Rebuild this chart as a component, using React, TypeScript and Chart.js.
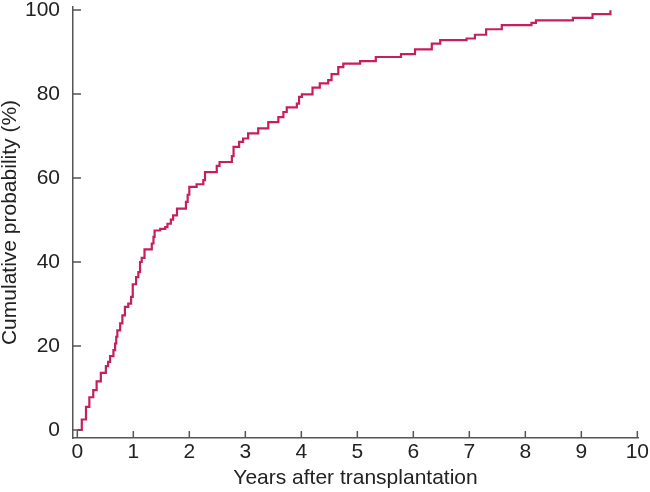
import { useEffect, useRef } from 'react'
import Chart from 'chart.js/auto'

// event times (years) and cumulative probability (%) after each step
const YEARS = [
  0, 0.08, 0.155, 0.215, 0.285, 0.345, 0.42, 0.51, 0.55, 0.585, 0.645, 0.675,
  0.695, 0.715, 0.765, 0.805, 0.85, 0.91, 0.96, 0.99, 1.05, 1.09, 1.12, 1.15,
  1.2, 1.33, 1.36, 1.38, 1.48, 1.57, 1.61, 1.67, 1.71, 1.78, 1.94, 1.97, 2.0,
  2.13, 2.25, 2.28, 2.49, 2.54, 2.76, 2.79, 2.89, 2.96, 3.05, 3.23, 3.41, 3.59,
  3.68, 3.74, 3.92, 3.96, 4.01, 4.2, 4.33, 4.48, 4.54, 4.66, 4.75, 5.05, 5.33,
  5.78, 6.03, 6.33, 6.48, 6.95, 7.1, 7.3, 7.58, 8.11, 8.19, 8.85, 9.2, 9.52,
]
const PROBABILITY = [
  0, 2.5, 5.5, 7.8, 9.5, 11.6, 13.6, 15.2, 16.2, 17.6, 19.0, 20.6,
  22.2, 23.7, 25.4, 27.3, 29.3, 30.1, 31.7, 34.7, 36.4, 37.6, 40.0, 41.0,
  43.0, 44.4, 46.0, 47.5, 47.9, 48.3, 49.1, 50.1, 51.1, 52.7, 54.3, 56.0, 57.9,
  58.5, 59.5, 61.4, 62.9, 63.8, 65.2, 67.4, 68.6, 69.4, 70.6, 71.8, 73.3, 74.5,
  75.7, 76.8, 77.7, 79.3, 79.9, 81.5, 82.5, 83.3, 84.7, 86.4, 87.2, 87.8, 88.8,
  89.5, 90.6, 92.0, 92.8, 93.2, 94.1, 95.4, 96.4, 96.9, 97.5, 98.1, 99.0, 99.9,
]
const X_TICKS = [0, 1, 2, 3, 4, 5, 6, 7, 8, 9, 10]
const Y_TICKS = [0, 20, 40, 60, 80, 100]

const LINE_COLOR = '#c51f5d'
const AXIS_COLOR = '#555555'
const TEXT_COLOR = '#222222'
const FONT = 'Liberation Sans, Arial, Helvetica, sans-serif'

// tick marks pointing into the plot, like the original figure
const inwardTicks = {
  id: 'inwardTicks',
  afterDraw(chart: any) {
    const { ctx, chartArea, scales } = chart
    ctx.save()
    ctx.strokeStyle = AXIS_COLOR
    ctx.lineWidth = 1.5
    ctx.beginPath()
    scales.x.ticks.forEach((t: any) => {
      const px = scales.x.getPixelForValue(t.value)
      ctx.moveTo(px, chartArea.bottom)
      ctx.lineTo(px, chartArea.bottom - 7)
    })
    scales.y.ticks.forEach((t: any) => {
      const py = scales.y.getPixelForValue(t.value)
      ctx.moveTo(chartArea.left, py)
      ctx.lineTo(chartArea.left + 8, py)
    })
    ctx.stroke()
    ctx.restore()
  },
}

export default function App() {
  const chartRef = useRef<HTMLCanvasElement>(null)
  const chartInstance = useRef<Chart | null>(null)

  useEffect(() => {
    document.body.style.margin = '0'
    if (!chartRef.current) return
    if (chartInstance.current) chartInstance.current.destroy()
    const ctx = chartRef.current.getContext('2d')
    if (!ctx) return

    chartInstance.current = new Chart(ctx, {
      type: 'line',
      data: {
        datasets: [
          {
            data: YEARS.map((x, i) => ({ x, y: PROBABILITY[i] })),
            borderColor: LINE_COLOR,
            borderWidth: 2.2,
            pointRadius: 0,
            stepped: true,
            fill: false,
          },
        ],
      },
      options: {
        responsive: false,
        animation: false,
        layout: { padding: 0 },
        plugins: {
          legend: { display: false },
          tooltip: { enabled: false },
        },
        scales: {
          x: {
            type: 'linear',
            min: -0.077,
            max: 10.012,
            afterBuildTicks: (s: any) => {
              s.ticks = X_TICKS.map(value => ({ value }))
            },
            afterFit: (s: any) => {
              s.height = 54
              s.paddingLeft = 0
              s.paddingRight = 12
            },
            grid: { display: false },
            border: { color: AXIS_COLOR, width: 1.5 },
            ticks: {
              padding: -6,
              color: TEXT_COLOR,
              maxRotation: 0,
              autoSkip: false,
              font: { family: FONT, size: 21 },
            },
            title: {
              display: true,
              text: 'Years after transplantation',
              color: TEXT_COLOR,
              padding: { top: 0, bottom: 1 },
              font: { family: FONT, size: 21 },
            },
          },
          y: {
            type: 'linear',
            min: -1.9,
            max: 100.7,
            afterBuildTicks: (s: any) => {
              s.ticks = Y_TICKS.map(value => ({ value }))
            },
            afterFit: (s: any) => {
              s.width = 73
              s.paddingTop = 7
              s.paddingBottom = 0
            },
            grid: { display: false },
            border: { color: AXIS_COLOR, width: 1.5 },
            ticks: {
              padding: 5,
              color: TEXT_COLOR,
              autoSkip: false,
              font: { family: FONT, size: 21 },
            },
            title: {
              display: true,
              text: 'Cumulative probability (%)',
              color: TEXT_COLOR,
              padding: { top: -2, bottom: 0 },
              font: { family: FONT, size: 21 },
            },
          },
        },
      },
      plugins: [inwardTicks],
    })

    return () => {
      if (chartInstance.current) {
        chartInstance.current.destroy()
        chartInstance.current = null
      }
    }
  }, [])

  return (
    <div style={{ width: 650, height: 492, background: '#fff' }}>
      <canvas ref={chartRef} width={650} height={492} />
    </div>
  )
}
